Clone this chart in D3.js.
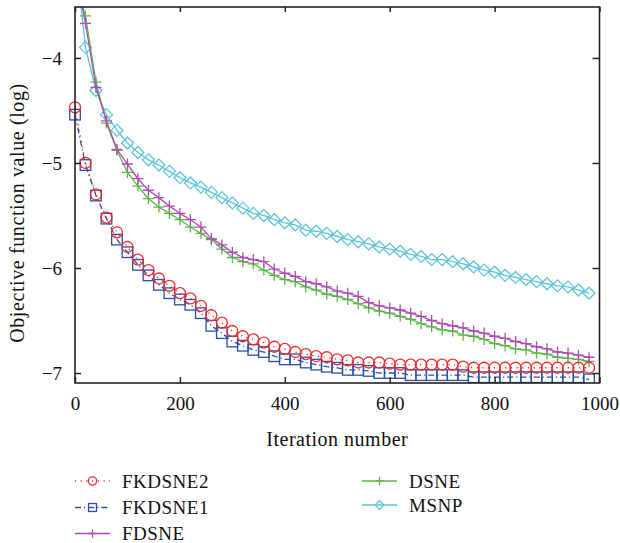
<!DOCTYPE html>
<html>
<head>
<meta charset="utf-8">
<script src="https://cdn.jsdelivr.net/npm/d3@7"></script>
<style>
  html, body { margin: 0; padding: 0; background: #fff; }
  svg { display: block; }
  svg text { font-family: 'Liberation Serif', 'Times New Roman', serif; fill: #111; }
</style>
</head>
<body>
<svg id="chart" width="620" height="543"></svg>
<script>
const iterations = [0,20,40,60,80,100,120,140,160,180,200,220,240,260,280,300,320,340,360,380,
  400,420,440,460,480,500,520,540,560,580,600,620,640,660,680,700,720,740,760,780,
  800,820,840,860,880,900,920,940,960,980];

const fkdsne2 = [-4.47,-5.00,-5.30,-5.52,-5.66,-5.80,-5.92,-6.02,-6.10,-6.17,
  -6.24,-6.29,-6.36,-6.45,-6.52,-6.60,-6.65,-6.68,-6.71,-6.75,
  -6.77,-6.80,-6.82,-6.84,-6.85,-6.87,-6.88,-6.90,-6.90,-6.90,
  -6.91,-6.92,-6.92,-6.92,-6.92,-6.92,-6.92,-6.94,-6.95,-6.95,
  -6.95,-6.95,-6.95,-6.95,-6.95,-6.95,-6.95,-6.95,-6.95,-6.95];

const fkdsne1 = [-4.54,-5.02,-5.31,-5.53,-5.73,-5.85,-5.97,-6.07,-6.16,-6.24,
  -6.30,-6.35,-6.43,-6.55,-6.62,-6.70,-6.74,-6.78,-6.80,-6.84,
  -6.87,-6.87,-6.90,-6.92,-6.94,-6.95,-6.97,-6.97,-6.98,-7.00,
  -7.00,-7.00,-7.02,-7.02,-7.02,-7.02,-7.02,-7.02,-7.04,-7.04,
  -7.04,-7.04,-7.04,-7.04,-7.04,-7.04,-7.04,-7.04,-7.04,-7.06];

const fdsne = [-3.16,-3.67,-4.28,-4.60,-4.87,-5.01,-5.15,-5.26,-5.33,-5.41,
  -5.48,-5.54,-5.61,-5.72,-5.78,-5.85,-5.90,-5.92,-5.94,-6.01,
  -6.05,-6.08,-6.13,-6.15,-6.18,-6.22,-6.24,-6.27,-6.33,-6.36,
  -6.38,-6.40,-6.43,-6.46,-6.50,-6.53,-6.55,-6.57,-6.60,-6.62,
  -6.65,-6.67,-6.70,-6.72,-6.75,-6.77,-6.80,-6.81,-6.83,-6.85];

const dsne = [-3.29,-3.60,-4.23,-4.62,-4.88,-5.09,-5.22,-5.34,-5.42,-5.48,
  -5.54,-5.61,-5.67,-5.73,-5.82,-5.90,-5.94,-5.96,-6.02,-6.07,
  -6.11,-6.13,-6.18,-6.21,-6.25,-6.27,-6.30,-6.34,-6.38,-6.41,
  -6.43,-6.46,-6.49,-6.53,-6.56,-6.59,-6.60,-6.64,-6.65,-6.68,
  -6.72,-6.74,-6.77,-6.78,-6.81,-6.82,-6.85,-6.86,-6.87,-6.89];

const msnp = [-2.99,-3.90,-4.31,-4.54,-4.69,-4.81,-4.90,-4.97,-5.02,-5.08,
  -5.14,-5.19,-5.23,-5.28,-5.33,-5.38,-5.43,-5.48,-5.50,-5.54,
  -5.57,-5.59,-5.64,-5.65,-5.67,-5.70,-5.73,-5.75,-5.77,-5.80,
  -5.82,-5.84,-5.87,-5.89,-5.92,-5.92,-5.94,-5.96,-5.99,-6.02,
  -6.04,-6.07,-6.09,-6.11,-6.13,-6.15,-6.17,-6.18,-6.21,-6.24];

const seriesNames = ["FKDSNE2", "FKDSNE1", "FDSNE", "DSNE", "MSNP"];
const xTicks = [0, 200, 400, 600, 800, 1000];
const yTicks = [-4, -5, -6, -7];
const xTitle = "Iteration number";
const yTitle = "Objective function value (log)";

const FONT = "'Liberation Serif', 'Times New Roman', serif";

const styles = {
  FKDSNE2: { color: "#f02a2a", dash: "1.2,4.5", marker: "circle" },
  FKDSNE1: { color: "#2d4fa6", dash: "6,3,1.2,3", marker: "square" },
  FDSNE:   { color: "#b04db3", dash: null, marker: "plus" },
  DSNE:    { color: "#5bb947", dash: null, marker: "plus" },
  MSNP:    { color: "#5ec5d6", dash: null, marker: "diamond" }
};
const valuesByName = { FKDSNE2: fkdsne2, FKDSNE1: fkdsne1, FDSNE: fdsne, DSNE: dsne, MSNP: msnp };

const svg = d3.select("#chart");
const L = 75, R = 599.5, T = 7, B = 383;
const x = d3.scaleLinear().domain([0, 1000]).range([L, R]);
const y = d3.scaleLinear().domain([-7.095, -3.515]).range([B, T]);

svg.append("defs").append("clipPath").attr("id", "clip")
  .append("rect").attr("x", 0).attr("y", T).attr("width", 620).attr("height", B - T);

function drawMarker(g, type, cx, cy, color, s) {
  if (type === "circle") {
    g.append("circle").attr("cx", cx).attr("cy", cy).attr("r", 5.5 * s)
      .attr("fill", "none").attr("stroke", color).attr("stroke-width", 1.3);
  } else if (type === "square") {
    const h = 5.3 * s;
    g.append("rect").attr("x", cx - h).attr("y", cy - h).attr("width", 2 * h).attr("height", 2 * h)
      .attr("fill", "none").attr("stroke", color).attr("stroke-width", 1.3);
  } else if (type === "plus") {
    const h = 5.5 * s;
    g.append("path").attr("d", `M${cx - h},${cy}H${cx + h}M${cx},${cy - h}V${cy + h}`)
      .attr("fill", "none").attr("stroke", color).attr("stroke-width", 1.3);
  } else if (type === "diamond") {
    const h = 6 * s;
    g.append("path").attr("d", `M${cx},${cy - h}L${cx + h},${cy}L${cx},${cy + h}L${cx - h},${cy}Z`)
      .attr("fill", "none").attr("stroke", color).attr("stroke-width", 1.3);
  }
}

const plot = svg.append("g").attr("clip-path", "url(#clip)");
const drawOrder = ["MSNP", "DSNE", "FDSNE", "FKDSNE1", "FKDSNE2"];
drawOrder.forEach(name => {
  const st = styles[name];
  const vals = valuesByName[name];
  const pts = iterations.map((it, i) => [it, vals[i]]);
  const line = d3.line().x(d => x(d[0])).y(d => y(d[1]));
  const p = plot.append("path").datum(pts).attr("d", line)
    .attr("fill", "none").attr("stroke", st.color).attr("stroke-width", 1.3);
  if (st.dash) p.attr("stroke-dasharray", st.dash);
  const mg = plot.append("g");
  pts.forEach(d => drawMarker(mg, st.marker, x(d[0]), y(d[1]), st.color, 1));
});

// Frame
svg.append("rect").attr("x", L).attr("y", T).attr("width", R - L).attr("height", B - T)
  .attr("fill", "none").attr("stroke", "#222").attr("stroke-width", 1.6);

// Axes with inward ticks
const fmt = d => (d < 0 ? "\u2212" + Math.abs(d) : String(d));
const xAxisB = d3.axisBottom(x).tickValues(xTicks).tickSizeInner(-6).tickSizeOuter(0).tickPadding(14).tickFormat(fmt);
const gx = svg.append("g").attr("transform", `translate(0,${B})`).call(xAxisB);
const xAxisT = d3.axisTop(x).tickValues(xTicks).tickSizeInner(-5).tickSizeOuter(0).tickFormat("");
const gxt = svg.append("g").attr("transform", `translate(0,${T})`).call(xAxisT);
const yAxisL = d3.axisLeft(y).tickValues(yTicks).tickSizeInner(-6).tickSizeOuter(0).tickPadding(13).tickFormat(fmt);
const gy = svg.append("g").attr("transform", `translate(${L},0)`).call(yAxisL);
const yAxisR = d3.axisRight(y).tickValues(yTicks).tickSizeInner(-7).tickSizeOuter(0).tickFormat("");
const gyr = svg.append("g").attr("transform", `translate(${R},0)`).call(yAxisR);
[gx, gxt, gy, gyr].forEach(g => {
  g.attr("font-family", FONT);
  g.select(".domain").remove();
  g.selectAll(".tick line").attr("stroke", "#222").attr("stroke-width", 1.5);
  g.selectAll(".tick text").style("font-family", FONT).attr("font-size", 19).attr("fill", "#111");
});
gx.selectAll(".tick text").attr("dy", "0.71em");

// Titles
svg.append("text").attr("x", (L + R) / 2).attr("y", 446).attr("text-anchor", "middle")
  .style("font-family", FONT).attr("font-size", 20).attr("letter-spacing", 0.5).text(xTitle);
svg.append("text").attr("transform", "translate(24,213) rotate(-90)").attr("text-anchor", "middle")
  .style("font-family", FONT).attr("font-size", 20).attr("letter-spacing", 0.6).text(yTitle);

// Legend
const legendPos = {
  FKDSNE2: [75, 481], FKDSNE1: [75, 507.5], FDSNE: [75, 533.5],
  DSNE: [362, 481], MSNP: [362, 505]
};
seriesNames.forEach(name => {
  const st = styles[name];
  const [lx, ly] = legendPos[name];
  const lg = svg.append("g");
  const ln = lg.append("line").attr("x1", lx).attr("x2", lx + 35).attr("y1", ly).attr("y2", ly)
    .attr("stroke", st.color).attr("stroke-width", 1.3);
  if (st.dash) ln.attr("stroke-dasharray", st.dash);
  drawMarker(lg, st.marker, lx + 17.5, ly, st.color, 0.75);
  lg.append("text").attr("x", lx + 47).attr("y", ly).attr("dy", "0.35em")
    .style("font-family", FONT).attr("font-size", 19).attr("letter-spacing", 0.5).text(name);
});
</script>
</body>
</html>
